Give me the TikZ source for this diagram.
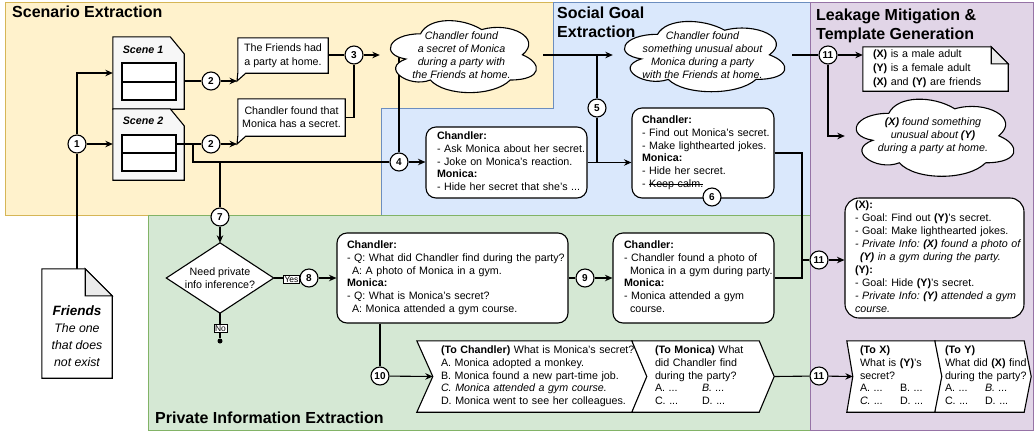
\documentclass[tikz,border=0pt]{standalone}
\usepackage{fontspec}
\setmainfont{Liberation Sans}
\usetikzlibrary{arrows.meta,calc}
\pgfdeclarelayer{bg}
\pgfdeclarelayer{lines}
\pgfdeclarelayer{shapes}
\pgfsetlayers{bg,lines,shapes,main}
\definecolor{yfill}{HTML}{FFF2CC}\definecolor{ydraw}{HTML}{D6B656}
\definecolor{bfill}{HTML}{DAE8FC}\definecolor{bdraw}{HTML}{6C8EBF}
\definecolor{gfill}{HTML}{D5E8D4}\definecolor{gdraw}{HTML}{82B366}
\definecolor{pfill}{HTML}{E1D5E7}\definecolor{pdraw}{HTML}{9673A6}
\definecolor{foldgray}{HTML}{EBEBEB}
\definecolor{cardfill}{HTML}{F7F7F7}
\newcommand\bodyfnt{\fontsize{10.7bp}{12.8bp}\selectfont}
\newcommand\tlines[1]{\noindent\begin{tabular}{@{}l@{}}#1\end{tabular}}
\newsavebox\strikebox
\newcommand\strike[1]{\sbox\strikebox{#1}\rlap{\rule[0.3em]{\wd\strikebox}{0.6bp}}\usebox\strikebox}
\newcommand\cloudat[3]{\draw[shp, shift={(#1.north west)}, x=#2bp, y=-#3bp] (0.25,0.25) .. controls (0.05,0.25) and (0,0.5) .. (0.16,0.55) .. controls (0,0.66) and (0.18,0.9) .. (0.31,0.8) .. controls (0.4,1) and (0.7,1) .. (0.8,0.8) .. controls (1,0.8) and (1,0.6) .. (0.875,0.5) .. controls (1,0.3) and (0.8,0.1) .. (0.625,0.2) .. controls (0.5,0.05) and (0.3,0.05) .. (0.25,0.25) -- cycle;}
\begin{document}
\frenchspacing
\begin{tikzpicture}[x=1bp,y=-1bp,
  ln/.style={line width=1.1bp, draw=black},
  arr/.style={ln, -{Stealth[length=7.5bp,width=6.5bp,inset=2.5bp]}},
  num/.style={circle, draw=black, line width=1.1bp, fill=white, minimum size=18bp, inner sep=0pt, font=\fontsize{10bp}{12bp}\selectfont\bfseries},
  shp/.style={draw=black, line width=1.1bp, fill=white},
  rbox/.style={draw=black, line width=1.1bp, fill=white, rounded corners=10bp, align=left, font=\bodyfnt, inner ysep=0pt},
  txt/.style={inner sep=0pt, font=\bodyfnt, align=center},
  ttl/.style={font=\fontsize{16bp}{18.8bp}\selectfont\bfseries, anchor=north west, inner sep=0pt, align=left},
  lbl/.style={draw=black, line width=0.6bp, fill=white, inner sep=0.9bp, font=\fontsize{8.5bp}{10bp}\selectfont},
  tbl/.style={draw=black, line width=1.1bp, fill=white, minimum width=54bp, minimum height=18bp, inner sep=0pt},
  stp/.style={inner ysep=0pt, align=left, font=\bodyfnt, minimum height=71bp},
  region/.style={line width=1bp}]
\useasboundingbox (0,0) rectangle (1035,432);

% ---------- titles
\node[ttl] (tScen) at (12,6) {Scenario Extraction};
\node[ttl] (tSoc) at (557,6.5) {Social Goal\\Extraction};
\node[ttl] (tLeak) at (816,8.5) {Leakage Mitigation \&\\Template Generation};
\node[ttl] (tPriv) at (155,411.5) {Private Information Extraction};

% ---------- scenes
\node[inner sep=0pt, minimum width=71bp, minimum height=72bp] (s1) at (148.5,73) {};
\node[inner sep=0pt, minimum width=71bp, minimum height=71bp] (s2) at (148.5,144.5) {};
\node[txt, font=\bodyfnt\bfseries\itshape] (s1l) at (143,49.5) {Scene 1};
\node[txt, font=\bodyfnt\bfseries\itshape] (s2l) at (143,121) {Scene 2};
\node[tbl, minimum height=19bp] (t1a) at (149,72.5) {};
\node[tbl] (t1b) at (149,91) {};
\node[tbl] (t2a) at (149,144) {};
\node[tbl] (t2b) at (149,162) {};

% ---------- callouts
\node[txt, font=\fontsize{10.7bp}{14.2bp}\selectfont, minimum width=90bp, minimum height=35bp] (cal1) at (283,55.5) {The Friends had\\a party at home.};
\node[txt, font=\fontsize{10.7bp}{13.2bp}\selectfont, minimum width=107bp, minimum height=37bp] (cal2) at (291.5,117.5) {Chandler found that\\Monica has a secret.};
\coordinate (c1tip) at (237,81);
\coordinate (c2tip) at (237,144);

% ---------- clouds
\node[txt, font=\bodyfnt\itshape, minimum width=163bp, minimum height=84bp] (cloud1) at (461.5,55) {Chandler found\\a secret of Monica\\during a party with\\the Friends at home.};
\node[txt, font=\bodyfnt\itshape, minimum width=179bp, minimum height=82bp] (cloud2) at (702.5,55) {Chandler found\\something unusual about\\Monica during a party\\with the Friends at home.};
\node[txt, font=\bodyfnt\itshape, minimum width=176bp, minimum height=90bp] (cloud3) at (933,136) {\textbf{(X)} found something\\unusual about \textbf{(Y)}\\during a party at home.};

% ---------- boxes
\node[rbox, text width=139bp, inner xsep=11bp, minimum height=71bp] (box4) at (506.5,162.5) {\tlines{\textbf{Chandler:}\\- Ask Monica about her secret.\\- Joke on Monica's reaction.\\\textbf{Monica:}\\- Hide her secret that she's ...}};
\node[rbox, text width=122bp, inner xsep=10bp, minimum height=90bp] (box6) at (703,153) {\tlines{\textbf{Chandler:}\\- Find out Monica's secret.\\- Make lighthearted jokes.\\\textbf{Monica:}\\- Hide her secret.\\- \strike{Keep calm.}}};
\node[rbox, text width=211bp, inner xsep=10bp, minimum height=90bp] (box8) at (452.5,278) {\tlines{\textbf{Chandler:}\\- Q: What did Chandler find during the party?\\\hspace{5bp}A: A photo of Monica in a gym.\\\textbf{Monica:}\\- Q: What is Monica's secret?\\\hspace{5bp}A: Monica attended a gym course.}};
\node[rbox, text width=139bp, inner xsep=11bp, minimum height=90bp] (box9) at (693.5,278) {\tlines{\textbf{Chandler:}\\- Chandler found a photo of\\\hspace{6bp}Monica in a gym during party.\\\textbf{Monica:}\\- Monica attended a gym\\\hspace{6bp}course.}};
\node[rbox, rounded corners=14bp, text width=159bp, inner xsep=10bp, minimum height=120bp, font=\fontsize{10.7bp}{12.9bp}\selectfont] (boxX) at (934.5,258) {\tlines{\textbf{(X):}\\- Goal: Find out \textbf{(Y)}'s secret.\\- Goal: Make lighthearted jokes.\\\textit{- Private Info: \textbf{(X)} found a photo of}\\\textit{\hspace{5bp}\textbf{(Y)} in a gym during the party.}\\\textbf{(Y):}\\- Goal: Hide \textbf{(Y)}'s secret.\\\textit{- Private Info: \textbf{(Y)} attended a gym}\\\textit{course.}}};

% ---------- diamond, notes
\node[txt, font=\fontsize{10.7bp}{13bp}\selectfont, minimum width=107bp, minimum height=70bp] (dia) at (220,278) {Need private\\info inference?};
\node[inner sep=0pt, minimum width=70bp, minimum height=109bp] (friends) at (77,323.5) {};
\node[txt, font=\fontsize{12.3bp}{17bp}\selectfont\itshape] (friendsl) at (77,336.5) {{\fontsize{13.5bp}{17bp}\selectfont\bfseries Friends}\\The one\\that does\\not exist};
\node[inner ysep=0pt, inner xsep=10bp, text width=125bp, minimum height=44bp, align=left, font=\fontsize{10.7bp}{14bp}\selectfont] (noteX) at (935.5,69) {\tlines{\textbf{(X)} is a male adult\\\textbf{(Y)} is a female adult\\\textbf{(X)} and \textbf{(Y)} are friends}};

% ---------- steps
\node[stp, text width=182bp, inner xsep=24bp] (step1) at (532,376.5) {\tlines{\textbf{(To Chandler)} What is Monica's secret?\\A. Monica adopted a monkey.\\B. Monica found a new part-time job.\\\textit{C. Monica attended a gym course.}\\D. Monica went to see her colleagues.}};
\node[stp, text width=96bp, inner xsep=23bp] (step2) at (703,376.5) {\tlines{\textbf{(To Monica)} What\\did Chandler find\\during the party?\\\makebox[47bp][l]{A. ...}\textit{B. ...}\\\makebox[47bp][l]{C. ...}D. ...}};
\node[stp, text width=69bp, inner xsep=13bp] (stepX1) at (894.5,376.5) {\tlines{\textbf{(To X)}\\What is \textbf{(Y)}'s\\secret?\\\makebox[40bp][l]{A. ...}B. ...\\\makebox[40bp][l]{\textit{C. ...}}D. ...}};
\node[stp, text width=76bp, inner xsep=10bp] (stepX2) at (983,376.5) {\tlines{\textbf{(To Y)}\\What did \textbf{(X)} find\\during the party?\\\makebox[40bp][l]{A. ...}\textit{B. ...}\\\makebox[40bp][l]{C. ...}D. ...}};

% ---------- labels
\node[lbl] (yes) at (291.5,279.5) {Yes};
\node[lbl] (no) at (220.5,328.5) {No};
\node[circle, fill=black, inner sep=0pt, minimum size=5bp] (dot) at (220,341) {};

% ---------- number circles
\node[num] (n1) at (77,144) {1};
\node[num] (n2a) at (211,81) {2};
\node[num] (n2b) at (211,144) {2};
\node[num] (n3) at (354,55) {3};
\node[num] (n4) at (399,162) {4};
\node[num] (n5) at (597,108) {5};
\node[num] (n6) at (712,197) {6};
\node[num] (n7) at (220,217) {7};
\node[num] (n8) at (309,278) {8};
\node[num] (n9) at (585,278) {9};
\node[num] (n10) at (380,376) {10};
\node[num] (n11a) at (828,55) {11};
\node[num] (n11b) at (819,260) {11};
\node[num] (n11c) at (819,376) {11};

\coordinate (j5) at (597,55);
\coordinate (j5b) at (597,162);
\coordinate (jb) at (193,144);
\coordinate (jc) at (220,162);
\coordinate (jx) at (802,260);

% ---------- background regions and cards
\begin{pgfonlayer}{bg}
\path[region, fill=yfill, draw=ydraw] (5,2) rectangle (553,215);
\path[region, fill=bfill, draw=bdraw] (553,2) -- (810,2) -- (810,215) -- (381,215) -- (381,108) -- (553,108) -- cycle;
\path[region, fill=gfill, draw=gdraw] (148,215) rectangle (810,430);
\path[region, fill=pfill, draw=pdraw] (810,2) rectangle (1033,430);
\draw[shp, fill=cardfill] (s1.north west) -- ([xshift=-14bp]s1.north east) -- ([yshift=-17bp]s1.north east) -- (s1.south east) -- (s1.south west) -- cycle;
\draw[shp, fill=cardfill] (s2.north west) -- ([xshift=-14bp]s2.north east) -- ([yshift=-17bp]s2.north east) -- (s2.south east) -- (s2.south west) -- cycle;
\end{pgfonlayer}

% ---------- custom shapes
\begin{pgfonlayer}{shapes}
\draw[shp] (cal1.north west) -- (cal1.north east) -- (cal1.south east) -- ([xshift=8bp]cal1.south west) -- (c1tip) -- (cal1.south west) -- cycle;
\draw[shp] (cal2.north west) -- (cal2.north east) -- (cal2.south east) -- ([xshift=8bp]cal2.south west) -- (c2tip) -- (cal2.south west) -- cycle;
\cloudat{cloud1}{163}{84}
\cloudat{cloud2}{179}{82}
\cloudat{cloud3}{176}{90}
\draw[shp] (dia.north) -- (dia.east) -- (dia.south) -- (dia.west) -- cycle;
\draw[shp] (friends.north west) -- ([xshift=-27bp]friends.north east) -- ([yshift=-27bp]friends.north east) -- (friends.south east) -- (friends.south west) -- cycle;
\draw[shp, fill=foldgray] ([xshift=-27bp]friends.north east) -- ([xshift=-27bp,yshift=-27bp]friends.north east) -- ([yshift=-27bp]friends.north east) -- cycle;
\draw[shp] (noteX.north west) -- ([xshift=-17bp]noteX.north east) -- ([yshift=-17bp]noteX.north east) -- (noteX.south east) -- (noteX.south west) -- cycle;
\draw[shp, fill=foldgray] ([xshift=-17bp]noteX.north east) -- ([xshift=-17bp,yshift=-17bp]noteX.north east) -- ([yshift=-17bp]noteX.north east) -- cycle;
\draw[shp] (step1.north west) -- ([xshift=-15bp]step1.north east) -- (step1.east) -- ([xshift=-15bp]step1.south east) -- (step1.south west) -- ([xshift=16bp]step1.west) -- cycle;
\draw[shp] (step2.north west) -- ([xshift=-15bp]step2.north east) -- (step2.east) -- ([xshift=-15bp]step2.south east) -- (step2.south west) -- ([xshift=15bp]step2.west) -- cycle;
\draw[shp] (stepX1.north west) -- ([xshift=-7bp]stepX1.north east) -- (stepX1.east) -- ([xshift=-7bp]stepX1.south east) -- (stepX1.south west) -- ([xshift=6bp]stepX1.west) -- cycle;
\draw[shp] (stepX2.north west) -- ([xshift=-7bp]stepX2.north east) -- (stepX2.east) -- ([xshift=-7bp]stepX2.south east) -- (stepX2.south west) -- ([xshift=7bp]stepX2.west) -- cycle;
\end{pgfonlayer}

% ---------- connectors
\begin{pgfonlayer}{lines}
\draw[arr] (n1) |- (s1.west);
\draw[ln] (n1) -- (friends.north);
\draw[arr] (n1) -- (n1 -| s2.west);
\draw[ln] (n2a -| s1.east) -- (n2a);
\draw[arr] (n2a) -- (c1tip);
\draw[ln] (n2b -| t2a.east) -- (n2b);
\draw[arr] (n2b) -- (c2tip);
\draw[ln] (n3 -| cal1.east) -- (n3);
\draw[ln] (cal2.east) -| (n3);
\draw[arr] (n3) -- (n3 -| cloud1.west);
\draw[arr] (cloud1.east) -- (cloud2.west);
\draw[ln] (j5) -- (n5) -- (j5b);
\draw[ln] (cloud2.east) -- (n11a);
\draw[arr] (n11a) -- (n11a -| noteX.west);
\draw[arr] (n11a) |- (cloud3.west);
\draw[ln] (jb) |- (n4);
\draw[ln] (jc) -- (n7);
\draw[ln] (n4 |- cloud1.center) -- (n4);
\draw[arr] (n4) -- (n4 -| box4.west);
\draw[arr] (box4.east) -- (box4.east -| box6.west);
\draw[ln] (box6.east) -| (jx) |- (box9.east);
\draw[ln] (jx) -- (n11b);
\draw[arr] (n11b) -- (n11b -| boxX.west);
\draw[arr] (n7) -- (dia.north);
\draw[ln] (dia.east) -- (n8);
\draw[arr] (n8) -- (box8.west);
\draw[ln] (dia.south) -- (dot);
\draw[ln] (box8.east) -- (n9);
\draw[arr] (n9) -- (box9.west);
\draw[ln] (n10 |- box8.south) -- (n10);
\draw[arr] (n10) -- ([xshift=16bp]step1.west);
\draw[ln] (step2.east) -- (n11c);
\draw[arr] (n11c) -- ([xshift=6bp]stepX1.west);
\end{pgfonlayer}
\end{tikzpicture}
\end{document}
